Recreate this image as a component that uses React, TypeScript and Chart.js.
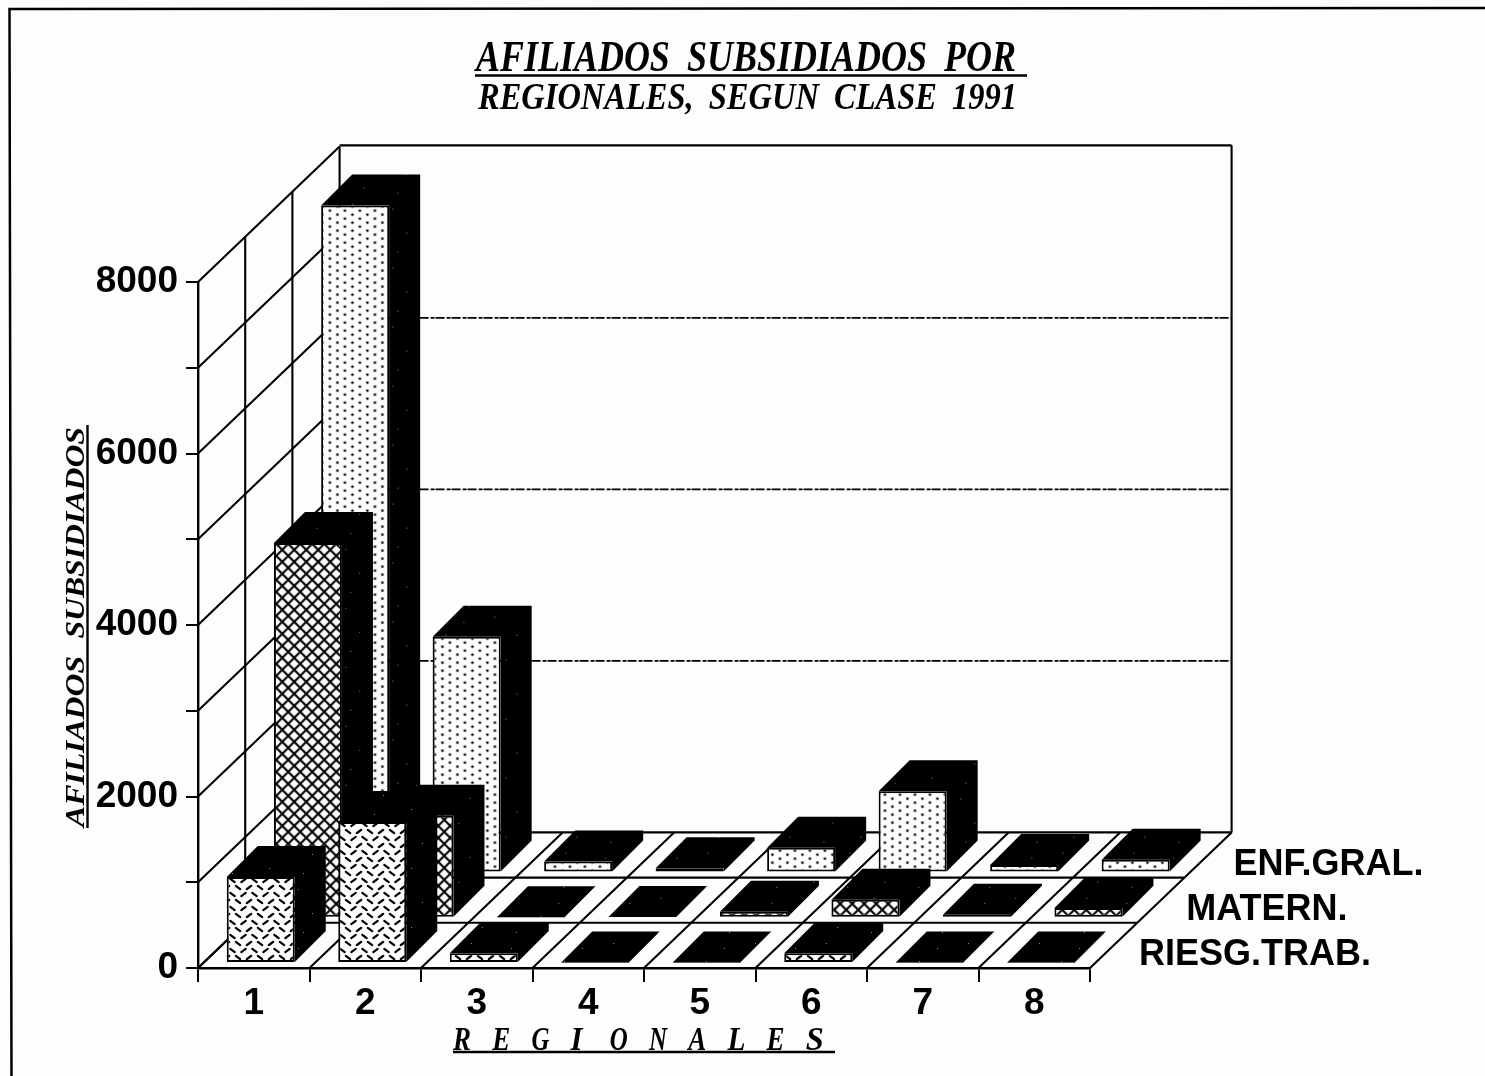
import React, { useEffect, useRef } from "react";
import { Chart, registerables } from "chart.js";

Chart.register(...registerables);

const categories = ["1", "2", "3", "4", "5", "6", "7", "8"];
const riesgTrab = [1003, 1645, 115, 5, 5, 115, 5, 5];
const matern = [4370, 1190, 5, 10, 70, 210, 35, 115];
const enfGral = [7780, 2750, 130, 50, 290, 950, 90, 150];
const seriesNames = ["RIESG.TRAB.", "MATERN.", "ENF.GRAL."];
const titleLines = ["AFILIADOS SUBSIDIADOS POR", "REGIONALES, SEGUN CLASE 1991"];
const xTitle = "REGIONALES";
const yTitle = "AFILIADOS SUBSIDIADOS";

const INK = "#000000";
const PAPER = "#fdfdfd";
const SLOT_DX = 47.2;
const SLOT_DY = -45.2;
const BAR_DX = 7;
const BAR_DY = -5;
const BAR_DEPTH = 31;
const SERIF = '"Liberation Serif"';
const SANS = '"Liberation Sans"';

function tile(w: number, h: number, paint: (c: CanvasRenderingContext2D) => void) {
  const cv = document.createElement("canvas");
  cv.width = w;
  cv.height = h;
  const c = cv.getContext("2d")!;
  paint(c);
  return document.createElement("canvas").getContext("2d")!.createPattern(cv, "repeat")!;
}

const dotPattern = () =>
  tile(15, 8, (c) => {
    c.fillStyle = PAPER;
    c.fillRect(0, 0, 15, 8);
    c.fillStyle = "#000";
    c.beginPath();
    c.arc(3.5, 2, 1.35, 0, 7);
    c.closePath();
    c.moveTo(11, 6);
    c.arc(11, 6, 1.35, 0, 7);
    c.fill();
  });

const latticePattern = () =>
  tile(12, 12, (c) => {
    c.fillStyle = PAPER;
    c.fillRect(0, 0, 12, 12);
    c.strokeStyle = INK;
    c.lineWidth = 2.1;
    c.beginPath();
    c.moveTo(-2, -2);
    c.lineTo(14, 14);
    c.moveTo(14, -2);
    c.lineTo(-2, 14);
    c.stroke();
  });

const treadPattern = () =>
  tile(22, 14, (c) => {
    c.fillStyle = PAPER;
    c.fillRect(0, 0, 22, 14);
    c.strokeStyle = INK;
    c.lineWidth = 2.2;
    c.lineCap = "round";
    const dash = (x: number, y: number, s: number) => {
      c.beginPath();
      c.moveTo(x - 2.2, y - 1.7 * s);
      c.lineTo(x + 2.2, y + 1.7 * s);
      c.stroke();
    };
    dash(5.5, 3.5, 1);
    dash(16.5, 3.5, -1);
    dash(0, 10.5, -1);
    dash(22, 10.5, -1);
    dash(11, 10.5, 1);
  });

const speckPattern = () =>
  tile(71, 59, (c) => {
    c.fillStyle = INK;
    c.fillRect(0, 0, 71, 59);
    c.fillStyle = "#8a8a8a";
    [[7, 9], [38, 4], [60, 22], [21, 33], [49, 47], [12, 52]].forEach(([x, y]) => c.fillRect(x, y, 1, 1));
  });

function fitText(
  c: CanvasRenderingContext2D,
  text: string,
  x: number,
  y: number,
  width: number,
  font: string,
  wordGap = 0
) {
  c.save();
  c.font = font;
  c.textAlign = "left";
  c.textBaseline = "alphabetic";
  (c as any).wordSpacing = `${wordGap}px`;
  const natural = c.measureText(text).width;
  c.translate(x, y);
  c.scale(width / natural, 1);
  c.fillText(text, 0, 0);
  c.restore();
}

function line(c: CanvasRenderingContext2D, x0: number, y0: number, x1: number, y1: number) {
  c.beginPath();
  c.moveTo(x0, y0);
  c.lineTo(x1, y1);
  c.stroke();
}

export default function App() {
  const ref = useRef<HTMLCanvasElement>(null);

  useEffect(() => {
    const speck = speckPattern();

    const scene = {
      id: "scene3d",
      beforeDraw(chart: any) {
        const c = chart.ctx;
        c.save();
        c.fillStyle = PAPER;
        c.fillRect(0, 0, chart.width, chart.height);
        c.strokeStyle = INK;
        c.lineWidth = 2.5;
        c.beginPath();
        c.moveTo(1485, 8);
        c.lineTo(9.5, 9);
        c.lineTo(11.5, 1076);
        c.stroke();
        c.restore();
      },
      beforeDatasetsDraw(chart: any) {
        const c = chart.ctx;
        const { x, y } = chart.scales;
        const depths = seriesNames.length;
        const backDx = SLOT_DX * depths;
        const backDy = SLOT_DY * depths;
        const left = x.left;
        const right = x.right;
        const floor = y.getPixelForValue(0);
        const top = y.getPixelForValue(y.max);
        const slot = (right - left) / categories.length;
        c.save();
        c.strokeStyle = INK;
        c.lineWidth = 2.1;
        // left wall diagonals, one per y tick
        y.ticks.forEach((t: any) => {
          const py = y.getPixelForValue(t.value);
          line(c, left, py, left + backDx, py + backDy);
        });
        // verticals of the left wall and the back wall
        for (let k = 1; k <= depths; k++) {
          const px = left + SLOT_DX * k;
          line(c, px, top + SLOT_DY * k, px, floor + SLOT_DY * k);
        }
        line(c, left + backDx, top + backDy - 1, right + backDx, top + backDy - 1);
        line(c, right + backDx, top + backDy - 1, right + backDx, floor + backDy);
        // floor
        for (let k = 1; k <= depths; k++) {
          line(c, left + SLOT_DX * k, floor + SLOT_DY * k, right + SLOT_DX * k, floor + SLOT_DY * k);
        }
        for (let i = 0; i <= categories.length; i++) {
          const px = left + slot * i;
          line(c, px, floor, px + backDx, floor + backDy);
        }
        // back wall grid
        c.lineWidth = 1.6;
        c.setLineDash([9, 2, 4, 1]);
        y.ticks.forEach((t: any) => {
          if (t.label && t.value > 0 && t.value < y.max) {
            const py = y.getPixelForValue(t.value) + backDy;
            line(c, left + backDx, py, right + backDx, py);
          }
        });
        c.restore();
      },
      beforeDatasetDraw(chart: any, args: any) {
        const k = args.index;
        const c = chart.ctx;
        c.save();
        c.translate(BAR_DX + SLOT_DX * k, BAR_DY + SLOT_DY * k);
        c.fillStyle = speck;
        args.meta.data.forEach((bar: any) => {
          const p = bar.getProps(["x", "y", "base", "width"], true);
          const l = p.x - p.width / 2;
          const r = p.x + p.width / 2;
          const d = BAR_DEPTH;
          c.beginPath();
          c.moveTo(l, p.y);
          c.lineTo(l + d, p.y - d);
          c.lineTo(r + d, p.y - d);
          c.lineTo(r + d, p.base - d);
          c.lineTo(r, p.base);
          c.lineTo(r, p.y);
          c.closePath();
          c.fill();
        });
      },
      afterDatasetDraw(chart: any) {
        chart.ctx.restore();
      },
      afterDraw(chart: any) {
        const c = chart.ctx;
        const { x, y } = chart.scales;
        const floor = y.getPixelForValue(0);
        c.save();
        c.fillStyle = INK;
        c.strokeStyle = INK;
        // titles
        fitText(c, titleLines[0], 476, 71, 540, `italic bold 44px ${SERIF}`, 10);
        fitText(c, titleLines[1], 478, 109, 539, `italic bold 37px ${SERIF}`, 8);
        c.lineWidth = 2.4;
        line(c, 475, 75.5, 1027, 75.5);
        // x title, spaced letter by letter
        const step = 39.2;
        [...xTitle].forEach((ch, i) => {
          fitText(c, ch, 453 + step * i, 1050, 18 + (ch === "I" ? -6 : 0), `italic bold 33px ${SERIF}`);
        });
        line(c, 453, 1052, 835, 1052);
        // y title
        c.save();
        c.translate(84, 827);
        c.rotate(-Math.PI / 2);
        fitText(c, yTitle, 0, 0, 400, `italic bold 27px ${SERIF}`, 8);
        c.restore();
        line(c, 87.5, 425, 87.5, 828);
        // series names along the depth axis
        c.font = `bold 36px ${SANS}`;
        c.textAlign = "left";
        c.textBaseline = "alphabetic";
        seriesNames.forEach((name, k) => {
          c.fillText(name, x.right + 49 + SLOT_DX * k, floor - 3 + SLOT_DY * k);
        });
        c.restore();
      },
    };

    const chart = new Chart(ref.current!, {
      type: "bar",
      plugins: [scene],
      data: {
        labels: categories,
        datasets: [
          { label: seriesNames[0], data: riesgTrab, backgroundColor: treadPattern() },
          { label: seriesNames[1], data: matern, backgroundColor: latticePattern() },
          { label: seriesNames[2], data: enfGral, backgroundColor: dotPattern() },
        ].map((d) => ({
          ...d,
          clip: false,
          borderColor: INK,
          borderWidth: 2,
          borderSkipped: false,
          barPercentage: 0.61,
          categoryPercentage: 1,
          grouped: false,
        })) as any,
      },
      options: {
        animation: false,
        responsive: false,
        events: [],
        layout: { padding: { left: 90, right: 395, top: 282, bottom: 48 } },
        plugins: { legend: { display: false }, tooltip: { enabled: false }, title: { display: false } },
        scales: {
          x: {
            afterFit: (s: any) => {
              s.height = 60;
            },
            border: { display: true, color: INK, width: 2.4 },
            grid: { offset: true, drawOnChartArea: false, drawTicks: true, tickLength: 14, color: INK, lineWidth: 2 },
            ticks: {
              color: INK,
              padding: 0,
              maxRotation: 0,
              autoSkip: false,
              font: { family: "Liberation Sans", weight: "bold", size: 37 },
            },
          },
          y: {
            min: 0,
            max: 8000,
            afterFit: (s: any) => {
              s.width = 108;
            },
            border: { display: true, color: INK, width: 2.4 },
            grid: { drawOnChartArea: false, drawTicks: true, tickLength: 12, color: INK, lineWidth: 2 },
            ticks: {
              stepSize: 1000,
              autoSkip: false,
              color: INK,
              padding: 8,
              font: { family: "Liberation Sans", weight: "bold", size: 37 },
              callback: (v: any) => (Number(v) % 2000 === 0 ? String(v) : ""),
            },
          },
        },
      } as any,
    });
    return () => chart.destroy();
  }, []);

  return (
    <canvas
      ref={ref}
      width={1485}
      height={1076}
      style={{ position: "absolute", left: 0, top: 0, display: "block" }}
    />
  );
}
